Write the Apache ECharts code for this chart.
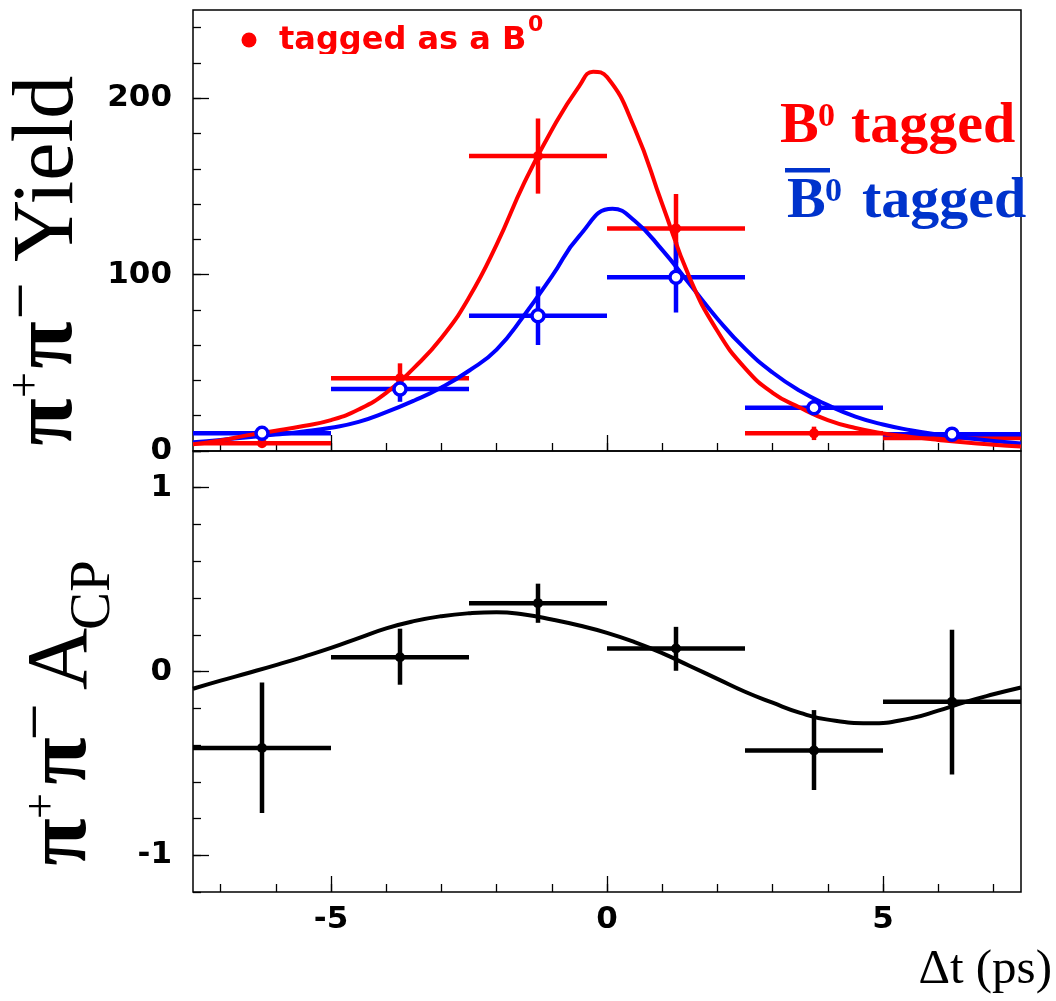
<!DOCTYPE html>
<html>
<head>
<meta charset="utf-8">
<script src="https://cdn.jsdelivr.net/npm/echarts@6/dist/echarts.min.js"></script>
<style>
  html, body { margin: 0; padding: 0; background: #fff; }
  #chart { width: 1056px; height: 1001px; }
</style>
</head>
<body>
<div id="chart"></div>
<script>
// bins in delta t (ps)
var binCenters = [-6.25, -3.75, -1.25, 1.25, 3.75, 6.25];
var binHalfWidth = 1.25;

// top panel: yields
var b0Yield = [4.4, 41.2, 167.2, 126.2, 10.0, 7.4];
var b0YieldErr = [2, 8.5, 21.3, 19.5, 3.8, 2];
var b0barYield = [10.0, 35.1, 76.7, 98.5, 24.5, 9.5];
var b0barYieldErr = [3, 7.2, 16.6, 20, 4.3, 2.5];

// fit curves
var redCurveX = [-7.5, -7, -6.5, -6, -5.5, -5, -4.5, -4, -3.5, -3, -2.5, -2, -1.5, -1, -0.5, -0.25, 0,
                 0.5, 1, 1.5, 2, 2.5, 3, 3.5, 4, 4.5, 5, 5.5, 6, 6.5, 7, 7.5];
var redCurveY = [3.8, 6, 9, 11.5, 14.2, 17.5, 23.5, 33, 47, 64, 87, 117, 152, 182, 207, 215, 212,
                 183, 140, 98, 68, 47, 33, 24.5, 17.5, 13, 10, 8, 6.3, 4.8, 3.6, 2.6];
var blueCurveX = [-7.5, -7, -6.5, -6, -5.5, -5, -4.5, -4, -3.5, -3, -2.5, -2, -1.5, -1, -0.5, 0.1,
                  0.5, 1, 1.5, 2, 2.5, 3, 3.5, 4, 4.5, 5, 5.5, 6, 6.5, 7, 7.5];
var blueCurveY = [5, 6.3, 7.8, 9.3, 11, 13.2, 16.5, 22, 28.5, 36, 45.5, 57.5, 77, 99, 122, 137.3,
                  130.5, 114, 94.5, 75, 58, 44.5, 34, 26, 19.5, 15, 11.8, 9.3, 7.4, 5.7, 4.2];

// bottom panel: asymmetry
var acpValue = [-0.416, 0.078, 0.372, 0.125, -0.43, -0.165];
var acpLow = [-0.77, -0.072, 0.265, 0.004, -0.645, -0.56];
var acpHigh = [-0.06, 0.233, 0.478, 0.243, -0.21, 0.227];
var acpCurveX = [-7.5, -7, -6.5, -6, -5.5, -5, -4.5, -4, -3.5, -3, -2.5, -2, -1.5, -1, -0.5, 0,
                 0.5, 1, 1.5, 2, 2.5, 3, 3.5, 4, 4.75, 5.5, 6, 6.5, 7, 7.5];
var acpCurveY = [-0.094, -0.05, -0.008, 0.035, 0.08, 0.128, 0.182, 0.235, 0.274, 0.301, 0.317, 0.323, 0.31, 0.283, 0.25, 0.21,
                 0.16, 0.1, 0.03, -0.04, -0.11, -0.17, -0.225, -0.262, -0.282, -0.255, -0.213, -0.165, -0.124, -0.087];

// ticks
var xMinorTicks = [-7, -6, -5, -4, -3, -2, -1, 0, 1, 2, 3, 4, 5, 6, 7];
var xMajorTicks = [-5, 0, 5];
var yieldMinorTicks = [0, 20, 40, 60, 80, 100, 120, 140, 160, 180, 200, 220, 240];
var yieldMajorTicks = [0, 100, 200];
var acpMinorTicks = [-1.2, -1, -0.8, -0.6, -0.4, -0.2, 0, 0.2, 0.4, 0.6, 0.8, 1, 1.2];
var acpMajorTicks = [-1, 0, 1];

var RED = '#ff0000', BLUE = '#0000ff', BLUE_TEXT = '#0033cc';
var SERIF = '"Liberation Serif", "Times New Roman", serif';
var SANS = '"DejaVu Sans", sans-serif';

function pairs(xs, ys) {
    var out = [];
    for (var i = 0; i < xs.length; i++) out.push([xs[i], ys[i]]);
    return out;
}

function makeAxis(gridIndex, pos, min, max, ticks, len, labels, margin) {
    return {
        type: 'value', gridIndex: gridIndex, position: pos, offset: 0,
        min: min, max: max,
        axisLine: { show: false, onZero: false },
        splitLine: { show: false },
        axisTick: { show: true, inside: true, length: len, customValues: ticks,
                    lineStyle: { color: '#000', width: 1.3 } },
        axisLabel: labels ? {
            show: true, customValues: labels, margin: margin,
            fontFamily: SANS, fontWeight: 'bold', fontSize: 31, color: '#000'
        } : { show: false }
    };
}

function errorBars(xIdx, yIdx, color, data, z) {
    return {
        type: 'custom', xAxisIndex: xIdx, yAxisIndex: yIdx, z: z, clip: true,
        data: data,
        renderItem: function(params, api) {
            var x = api.value(0), y = api.value(1), lo = api.value(2), hi = api.value(3);
            var pl = api.coord([x - binHalfWidth, y]);
            var pr = api.coord([x + binHalfWidth, y]);
            var pt = api.coord([x, hi]);
            var pb = api.coord([x, lo]);
            var st = { stroke: color, lineWidth: 4.5 };
            return {
                type: 'group',
                children: [
                    { type: 'line', shape: { x1: pl[0], y1: pl[1], x2: pr[0], y2: pr[1] }, style: st },
                    { type: 'line', shape: { x1: pt[0], y1: pt[1], x2: pb[0], y2: pb[1] }, style: st }
                ]
            };
        }
    };
}

function symErr(vals, errs) {
    var out = [];
    for (var i = 0; i < vals.length; i++) out.push([binCenters[i], vals[i], vals[i] - errs[i], vals[i] + errs[i]]);
    return out;
}

function asymErr(vals, lo, hi) {
    var out = [];
    for (var i = 0; i < vals.length; i++) out.push([binCenters[i], vals[i], lo[i], hi[i]]);
    return out;
}

function txt(str, x, y, size, opts) {
    opts = opts || {};
    return {
        type: 'text', x: x, y: y, z: 100,
        rotation: opts.rot ? Math.PI / 2 : 0,
        style: {
            text: str,
            fontFamily: opts.family || SERIF,
            fontSize: size,
            fontWeight: opts.weight || 'normal',
            fill: opts.color || '#000',
            textAlign: opts.align || 'left', align: opts.align || 'left',
            textVerticalAlign: 'middle', verticalAlign: 'middle'
        }
    };
}

function curve(xIdx, yIdx, xs, ys, color, z) {
    return {
        type: 'line', xAxisIndex: xIdx, yAxisIndex: yIdx, z: z,
        data: pairs(xs, ys), smooth: 0.5, showSymbol: false,
        lineStyle: { color: color, width: 4 }, clip: true
    };
}

var chart = echarts.init(document.getElementById('chart'), null, { renderer: 'canvas' });

var option = {
    animation: false,
    backgroundColor: '#fff',
    grid: [
        { left: 193, top: 10, width: 828, height: 441, show: true, borderColor: '#000', borderWidth: 1.5, backgroundColor: 'transparent' },
        { left: 193, top: 451, width: 828, height: 441, show: true, borderColor: '#000', borderWidth: 1.5, backgroundColor: 'transparent' }
    ],
    xAxis: [
        makeAxis(0, 'bottom', -7.5, 7.5, xMinorTicks, 8, null),
        makeAxis(0, 'bottom', -7.5, 7.5, xMajorTicks, 16, null),
        makeAxis(1, 'bottom', -7.5, 7.5, xMinorTicks, 8, null),
        makeAxis(1, 'bottom', -7.5, 7.5, xMajorTicks, 16, xMajorTicks, 12)
    ],
    yAxis: [
        makeAxis(0, 'left', 0, 250, yieldMinorTicks, 8, null),
        makeAxis(0, 'left', 0, 250, yieldMajorTicks, 16, yieldMajorTicks, 21),
        makeAxis(1, 'left', -1.2, 1.2, acpMinorTicks, 8, null),
        makeAxis(1, 'left', -1.2, 1.2, acpMajorTicks, 16, acpMajorTicks, 21)
    ],
    series: [
        errorBars(0, 0, RED, symErr(b0Yield, b0YieldErr), 2),
        errorBars(0, 0, BLUE, symErr(b0barYield, b0barYieldErr), 3),
        curve(0, 0, blueCurveX, blueCurveY, BLUE, 4),
        curve(0, 0, redCurveX, redCurveY, RED, 5),
        {
            type: 'scatter', xAxisIndex: 0, yAxisIndex: 0, z: 6,
            data: pairs(binCenters, b0Yield), symbol: 'circle', symbolSize: 10,
            itemStyle: { color: RED, opacity: 1 }
        },
        {
            type: 'scatter', xAxisIndex: 0, yAxisIndex: 0, z: 7,
            data: pairs(binCenters, b0barYield), symbol: 'circle', symbolSize: 12,
            itemStyle: { color: '#ffffff', borderColor: BLUE, borderWidth: 3.5, opacity: 1 }
        },
        errorBars(2, 2, '#000', asymErr(acpValue, acpLow, acpHigh), 2),
        curve(2, 2, acpCurveX, acpCurveY, '#000', 4),
        {
            type: 'scatter', xAxisIndex: 2, yAxisIndex: 2, z: 6,
            data: pairs(binCenters, acpValue), symbol: 'circle', symbolSize: 10,
            itemStyle: { color: '#000', opacity: 1 }
        }
    ],
    graphic: [
        // marker legend
        { type: 'circle', z: 100, shape: { cx: 249, cy: 40, r: 7.5 }, style: { fill: RED } },
        txt('tagged as a B', 279, 41, 32, { family: SANS, weight: 'bold', color: RED }),
        txt('0', 528, 25, 22, { family: SANS, weight: 'bold', color: RED }),
        { type: 'rect', z: 101, shape: { x: 276, y: 54, width: 250, height: 12 }, style: { fill: '#fff' } },

        // curve legend
        txt('B', 780, 127, 58, { weight: 'bold', color: RED }),
        txt('0', 818, 117, 34, { weight: 'bold', color: RED }),
        txt('tagged', 851, 127, 58, { weight: 'bold', color: RED }),
        { type: 'rect', z: 100, shape: { x: 785, y: 168, width: 45, height: 4.5 }, style: { fill: BLUE_TEXT } },
        txt('B', 787, 202, 58, { weight: 'bold', color: BLUE_TEXT }),
        txt('0', 825, 192, 34, { weight: 'bold', color: BLUE_TEXT }),
        txt('tagged', 862, 202, 58, { weight: 'bold', color: BLUE_TEXT }),

        // x axis title
        txt('\u0394t (ps)', 1052, 970, 49, { align: 'right' }),

        // top y title
        txt('\u03c0', 49, 422, 86, { rot: true, align: 'center', weight: 'bold' }),
        txt('+', 27, 385, 46, { rot: true, align: 'center' }),
        txt('\u03c0', 49, 345, 86, { rot: true, align: 'center', weight: 'bold' }),
        txt('\u2212', 25, 301, 66, { rot: true, align: 'center' }),
        txt('Yield', 49, 262, 86, { rot: true }),

        // bottom y title
        txt('\u03c0', 63, 842, 86, { rot: true, align: 'center', weight: 'bold' }),
        txt('+', 43, 806, 46, { rot: true, align: 'center' }),
        txt('\u03c0', 63, 761, 86, { rot: true, align: 'center', weight: 'bold' }),
        txt('\u2212', 39, 722, 66, { rot: true, align: 'center' }),
        txt('A', 63, 690, 86, { rot: true }),
        txt('CP', 94, 630, 57, { rot: true })
    ]
};

chart.setOption(option);
</script>
</body>
</html>
